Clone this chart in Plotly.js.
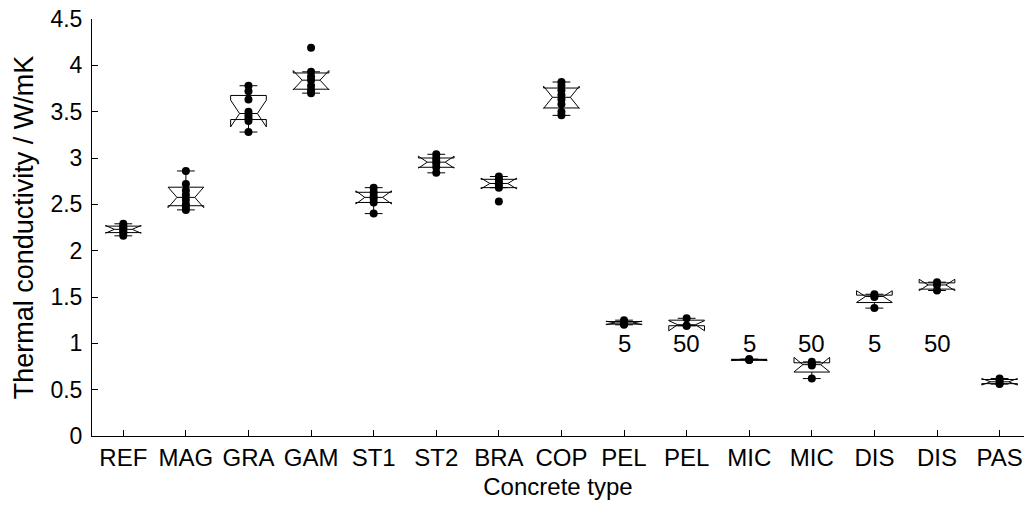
<!DOCTYPE html>
<html><head><meta charset="utf-8">
<script src="https://cdn.plot.ly/plotly-3.0.1.min.js"></script>
<style>html,body{margin:0;padding:0;background:#fff}</style>
</head><body><div id="chart" style="width:1024px;height:506px"></div>
<script>
// Category tick labels (duplicates are separate groups)
const tickLabels = ['REF','MAG','GRA','GAM','ST1','ST2','BRA','COP','PEL','PEL','MIC','MIC','DIS','DIS','PAS'];
// Sub-labels written inside the plot (grain size)
const groupLabels = ['','','','','','','','','5','50','5','50','5','50',''];
// Measured thermal conductivity values (W/mK) per concrete type
const REF   = [2.16, 2.19, 2.21, 2.23, 2.25, 2.27, 2.29];
const MAG   = [2.86, 2.72, 2.65, 2.60, 2.55, 2.50, 2.47, 2.44];
const GRA   = [3.78, 3.72, 3.63, 3.50, 3.46, 3.43, 3.40, 3.28];
const GAM   = [4.19, 3.93, 3.88, 3.84, 3.78, 3.73, 3.70];
const ST1   = [2.68, 2.63, 2.59, 2.56, 2.52, 2.40];
const ST2   = [3.04, 3.00, 2.97, 2.94, 2.90, 2.84];
const BRA   = [2.80, 2.77, 2.74, 2.71, 2.68, 2.53];
const COP   = [3.82, 3.78, 3.73, 3.68, 3.63, 3.58, 3.50, 3.46];
const PEL5  = [1.25, 1.23, 1.22, 1.21, 1.20];
const PEL50 = [1.27, 1.19, 1.19];
const MIC5  = [0.83, 0.82, 0.82];
const MIC50 = [0.80, 0.78, 0.76, 0.62];
const DIS5  = [1.53, 1.51, 1.50, 1.38];
const DIS50 = [1.66, 1.63, 1.57];
const PAS   = [0.62, 0.60, 0.57, 0.56];
const yTickVals = [0,0.5,1,1.5,2,2.5,3,3.5,4,4.5];
const yTickText = ['0','0.5','1','1.5','2','2.5','3','3.5','4','4.5'];

const series = [REF,MAG,GRA,GAM,ST1,ST2,BRA,COP,PEL5,PEL50,MIC5,MIC50,DIS5,DIS50,PAS];
const positions = tickLabels.map((_, i) => i + 1);
const xs = [], ys = [];
series.forEach((arr, i) => arr.forEach(v => { xs.push(positions[i]); ys.push(v); }));

const FONT = 'Liberation Sans, Arial, Helvetica, sans-serif';

const trace = {
  type: 'box', x: xs, y: ys,
  notched: true, notchwidth: 0.25,
  boxpoints: 'all', jitter: 0, pointpos: 0,
  width: 0.57, whiskerwidth: 0.5,
  line: {color: '#000', width: 1},
  fillcolor: 'rgba(0,0,0,0)',
  marker: {color: '#000', size: 8},
  hoverinfo: 'y'
};

const annotations = groupLabels.map((t, i) => ({
  x: positions[i], y: 1.0, xref: 'x', yref: 'y', text: t, showarrow: false,
  font: {family: FONT, size: 24, color: '#000'}, xanchor: 'center', yanchor: 'middle'
})).filter(a => a.text !== '');

const layout = {
  width: 1024, height: 506,
  margin: {l: 92, r: 0, t: 19, b: 70},
  paper_bgcolor: '#fff', plot_bgcolor: '#fff',
  showlegend: false,
  font: {family: FONT, size: 24, color: '#000'},
  xaxis: {
    range: [0.5, 15.39], tickvals: positions, ticktext: tickLabels,
    ticks: 'inside', ticklen: 6, tickcolor: '#000', tickwidth: 1,
    showline: true, linecolor: '#000', linewidth: 1, mirror: false,
    showgrid: false, zeroline: false,
    tickfont: {family: FONT, size: 24, color: '#000'},
    title: {text: 'Concrete type', font: {family: FONT, size: 24, color: '#000'}, standoff: 8}
  },
  yaxis: {
    range: [0, 4.5], tickvals: yTickVals, ticktext: yTickText,
    ticks: 'inside', ticklen: 6, tickcolor: '#000', tickwidth: 1,
    ticklabelstandoff: 4,
    showline: true, linecolor: '#000', linewidth: 1, mirror: false,
    showgrid: false, zeroline: false,
    tickfont: {family: FONT, size: 23, color: '#000'},
    title: {text: 'Thermal conductivity / W/mK', font: {family: FONT, size: 27, color: '#000'}, standoff: 8}
  },
  annotations: annotations
};

Plotly.newPlot('chart', [trace], layout, {staticPlot: true, displayModeBar: false});
</script></body></html>
